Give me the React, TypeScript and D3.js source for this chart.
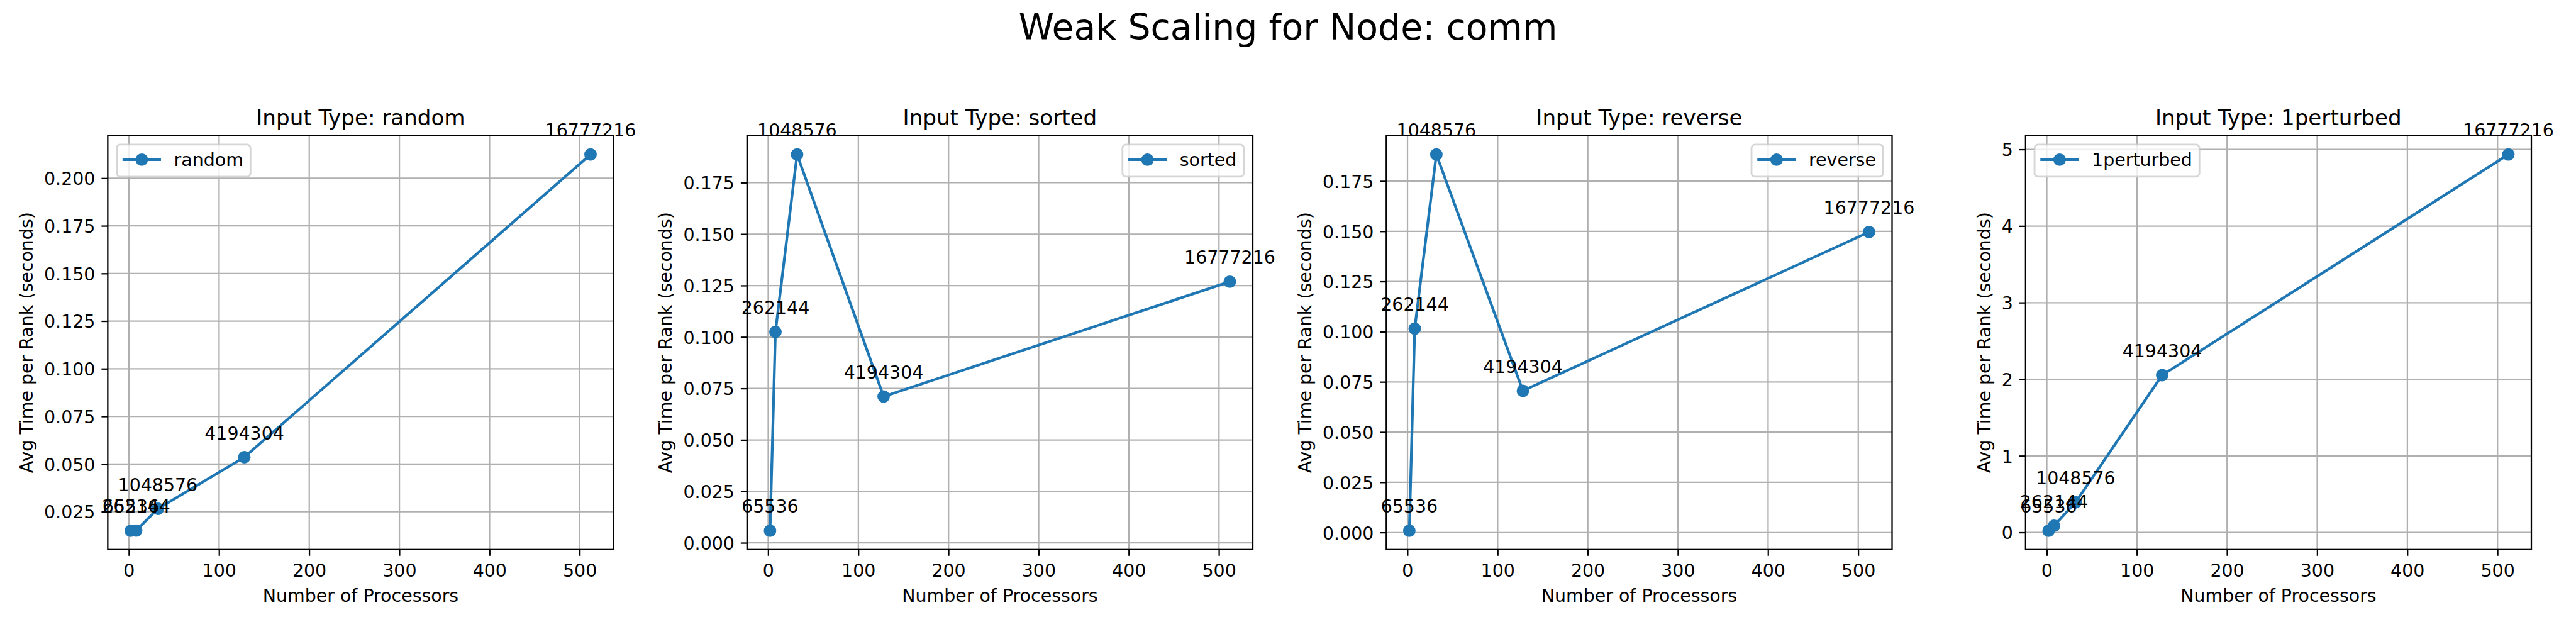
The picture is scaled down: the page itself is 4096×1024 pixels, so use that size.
import React, { useEffect, useRef } from 'react';
import * as d3 from 'd3';

// data
const processors = [2, 8, 32, 128, 512];
const sizeLabels = ['65536', '262144', '1048576', '4194304', '16777216'];
const inputTypes = ['random', 'sorted', 'reverse', '1perturbed'];
const randomTimes = [0.0150, 0.0151, 0.0265, 0.0536, 0.2125];
const sortedTimes = [0.0059, 0.1025, 0.1887, 0.0711, 0.1269];
const reverseTimes = [0.0009, 0.1016, 0.1883, 0.0706, 0.1497];
const perturbedTimes = [0.023, 0.088, 0.395, 2.054, 4.935];
const xTickValues = [0, 100, 200, 300, 400, 500];
const randomTicks = [0.025, 0.05, 0.075, 0.1, 0.125, 0.15, 0.175, 0.2];
const sortedTicks = [0, 0.025, 0.05, 0.075, 0.1, 0.125, 0.15, 0.175];
const reverseTicks = [0, 0.025, 0.05, 0.075, 0.1, 0.125, 0.15, 0.175];
const perturbedTicks = [0, 1, 2, 3, 4, 5];
const legendSides = ['left', 'right', 'right', 'left'];

const App = () => {
  const svgRef = useRef<SVGSVGElement>(null);

  useEffect(() => {
    const svg = d3.select(svgRef.current);
    svg.selectAll('*').remove();

    const pt = 300 / 72;
    const fs = 10 * pt;
    const font = '"DejaVu Sans", sans-serif';
    const blue = '#1f77b4';
    const series = [randomTimes, sortedTimes, reverseTimes, perturbedTimes];
    const yTickSets = [randomTicks, sortedTicks, reverseTicks, perturbedTicks];
    const yFormats = [d3.format('.3f'), d3.format('.3f'), d3.format('.3f'), d3.format('d')];

    svg.append('rect').attr('width', 6000).attr('height', 1500).attr('fill', 'white');

    svg.append('text')
      .attr('x', 3000)
      .attr('y', 93)
      .attr('text-anchor', 'middle')
      .attr('font-size', 20 * pt)
      .text('Weak Scaling for Node: comm');

    inputTypes.forEach((type, i) => {
      const left = 251 + i * 1489;
      const top = 316;
      const width = 1178;
      const height = 964;
      const values = series[i];

      const [xMin, xMax] = d3.extent(processors) as [number, number];
      const xPad = (xMax - xMin) * 0.05;
      const x = d3.scaleLinear().domain([xMin - xPad, xMax + xPad]).range([0, width]);

      const [yMin, yMax] = d3.extent(values) as [number, number];
      const yPad = (yMax - yMin) * 0.05;
      const y = d3.scaleLinear().domain([yMin - yPad, yMax + yPad]).range([height, 0]);

      const g = svg.append('g').attr('transform', `translate(${left},${top})`);

      // grid
      g.append('g')
        .selectAll('line')
        .data(xTickValues)
        .join('line')
        .attr('x1', d => x(d))
        .attr('x2', d => x(d))
        .attr('y1', 0)
        .attr('y2', height)
        .attr('stroke', '#b0b0b0')
        .attr('stroke-width', 0.8 * pt);
      g.append('g')
        .selectAll('line')
        .data(yTickSets[i])
        .join('line')
        .attr('x1', 0)
        .attr('x2', width)
        .attr('y1', d => y(d))
        .attr('y2', d => y(d))
        .attr('stroke', '#b0b0b0')
        .attr('stroke-width', 0.8 * pt);

      // series line + markers
      const line = d3.line<number>()
        .x((d, j) => x(processors[j]))
        .y(d => y(d));
      g.append('path')
        .datum(values)
        .attr('d', line)
        .attr('fill', 'none')
        .attr('stroke', blue)
        .attr('stroke-width', 1.5 * pt)
        .attr('stroke-linejoin', 'round');
      g.append('g')
        .selectAll('circle')
        .data(values)
        .join('circle')
        .attr('cx', (d, j) => x(processors[j]))
        .attr('cy', d => y(d))
        .attr('r', 3 * pt)
        .attr('fill', blue)
        .attr('stroke', blue)
        .attr('stroke-width', pt);

      // spines
      g.append('rect')
        .attr('width', width)
        .attr('height', height)
        .attr('fill', 'none')
        .attr('stroke', 'black')
        .attr('stroke-width', 0.8 * pt);

      // axes
      const xAxis = d3.axisBottom(x)
        .tickValues(xTickValues)
        .tickFormat(d3.format('d'))
        .tickSize(3.5 * pt)
        .tickSizeOuter(0)
        .tickPadding(18.8);
      const xg = g.append('g').attr('transform', `translate(0,${height})`).call(xAxis);
      xg.select('.domain').remove();
      xg.attr('font-size', fs).attr('font-family', font);
      xg.selectAll('.tick line').attr('stroke-width', 0.8 * pt);

      const yAxis = d3.axisLeft(y)
        .tickValues(yTickSets[i])
        .tickFormat(yFormats[i] as any)
        .tickSize(3.5 * pt)
        .tickSizeOuter(0)
        .tickPadding(3.5 * pt);
      const yg = g.append('g').call(yAxis);
      yg.select('.domain').remove();
      yg.attr('font-size', fs).attr('font-family', font);
      yg.selectAll('.tick line').attr('stroke-width', 0.8 * pt);
      yg.selectAll('.tick text').attr('dy', '0.365em');

      // labels
      g.append('text')
        .attr('x', width / 2)
        .attr('y', height + 122)
        .attr('text-anchor', 'middle')
        .attr('font-size', fs)
        .text('Number of Processors');

      const tickBox = (yg.node() as SVGGElement).getBBox();
      const ylabX = tickBox.x - 4 * pt - 0.236 * fs;
      g.append('text')
        .attr('transform', `translate(${ylabX},${height / 2}) rotate(-90)`)
        .attr('text-anchor', 'middle')
        .attr('font-size', fs)
        .text('Avg Time per Rank (seconds)');

      g.append('text')
        .attr('x', width / 2)
        .attr('y', -6 * pt)
        .attr('text-anchor', 'middle')
        .attr('font-size', 12 * pt)
        .text(`Input Type: ${type}`);

      // point annotations
      g.append('g')
        .selectAll('text')
        .data(values)
        .join('text')
        .attr('x', (d, j) => x(processors[j]))
        .attr('y', d => y(d) - 10 * pt)
        .attr('text-anchor', 'middle')
        .attr('font-size', fs)
        .text((d, j) => sizeLabels[j]);

      // legend
      const lg = g.append('g');
      const frame = lg.append('rect');
      const label = lg.append('text').attr('font-size', fs).text(type);
      const textW = (label.node() as SVGTextElement).getComputedTextLength();
      const pad = 0.4 * fs;
      const boxW = pad * 2 + 2 * fs + 0.8 * fs + textW;
      const boxH = 74.7;
      const bx = legendSides[i] === 'left' ? 0.5 * fs : width - 0.5 * fs - boxW;
      const by = 0.5 * fs;
      frame
        .attr('x', bx)
        .attr('y', by)
        .attr('width', boxW)
        .attr('height', boxH)
        .attr('rx', 0.2 * fs)
        .attr('fill', 'white')
        .attr('fill-opacity', 0.8)
        .attr('stroke', '#cccccc')
        .attr('stroke-opacity', 0.8)
        .attr('stroke-width', pt);
      lg.append('line')
        .attr('x1', bx + pad)
        .attr('x2', bx + pad + 2 * fs)
        .attr('y1', by + 35)
        .attr('y2', by + 35)
        .attr('stroke', blue)
        .attr('stroke-width', 1.5 * pt)
        .attr('stroke-linecap', 'square');
      lg.append('circle')
        .attr('cx', bx + pad + fs)
        .attr('cy', by + 35)
        .attr('r', 3 * pt)
        .attr('fill', blue)
        .attr('stroke', blue)
        .attr('stroke-width', pt);
      label
        .attr('x', bx + pad + 2.8 * fs)
        .attr('y', by + 49.7)
        .raise();
    });
  }, []);

  return (
    <svg
      ref={svgRef}
      viewBox="0 0 6000 1500"
      width={4096}
      height={1024}
      fontFamily={'"DejaVu Sans", sans-serif'}
      style={{ position: 'absolute', left: 0, top: 0, display: 'block' }}
    />
  );
};

export default App;
